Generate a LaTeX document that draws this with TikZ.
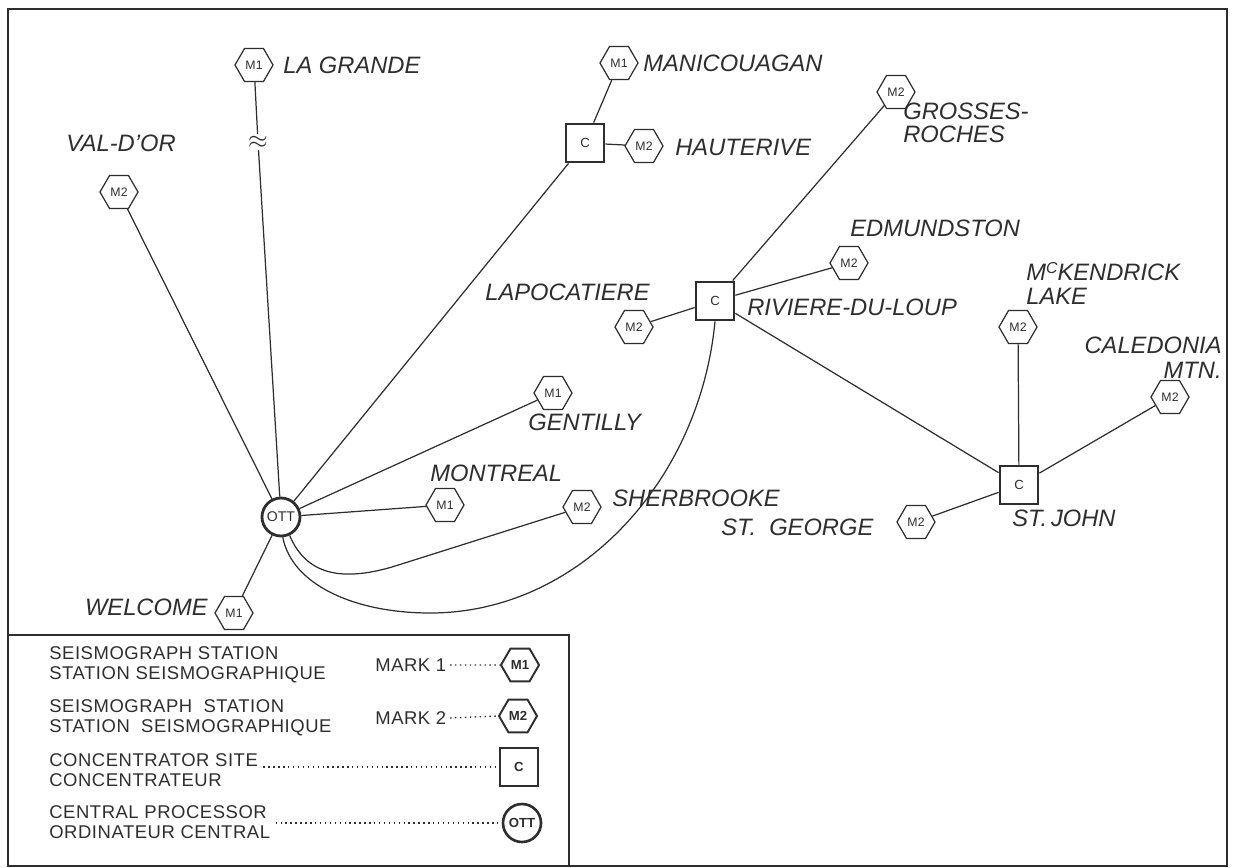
\documentclass[tikz,border=0pt]{standalone}
\usepackage{fontspec}
\setmainfont{Liberation Sans}
\newfontfamily\legfont[LetterSpace=3]{Liberation Sans}
\usetikzlibrary{shapes.geometric}
\definecolor{ink}{rgb}{0.18,0.18,0.18}
\begin{document}
\begin{tikzpicture}[x=0.02cm,y=-0.02cm,
  every node/.style={text=ink},
  wire/.style={draw=ink,line width=0.7pt},
  hexm/.style={draw=ink,regular polygon,regular polygon sides=6,minimum size=0.76cm,inner sep=0pt,line width=0.7pt,font=\legfont\fontsize{7}{7}\selectfont},
  conc/.style={draw=ink,rectangle,minimum size=0.76cm,inner sep=0pt,line width=1.6pt,font=\fontsize{7.5}{8}\selectfont},
  cpu/.style={draw=ink,circle,minimum size=0.76cm,inner sep=0pt,line width=1.6pt,font=\fontsize{8}{8}\selectfont},
  lab/.style={inner sep=0pt,font=\fontsize{13.5}{13.5}\selectfont\itshape},
  leg/.style={inner sep=0pt,anchor=west,align=left,font=\legfont\fontsize{10.5}{11.3}\selectfont},
  legdots/.style={draw=ink,line width=0.8pt,dotted},
  frame/.style={draw=ink,line width=0.8pt}]
\useasboundingbox (0,0) rectangle (1233,868);
\draw[frame] (8,9) rectangle (1227,866);
\draw[frame] (8,635) -- (569,635) -- (569,866);

% ---------- nodes ----------
\node[cpu] (OTT) at (281,517) {OTT};
\node[hexm] (WEL) at (234,613) {M1};
\node[hexm] (VDO) at (119,192) {M2};
\node[hexm] (LAG) at (254,65) {M1};
\node[inner sep=1pt,font=\fontsize{14}{14}\selectfont] (brk) at (258,142) {$\approx$};
\node[hexm] (MAN) at (619,63) {M1};
\node[conc] (HAUC) at (585,143) {C};
\node[hexm] (HAUM) at (644,146) {M2};
\node[hexm] (GRO) at (896,92) {M2};
\node[hexm] (EDM) at (849,263) {M2};
\node[hexm] (LAPM) at (634,327) {M2};
\node[conc] (RDL) at (715,301) {C};
\node[hexm] (MCK) at (1018,327) {M2};
\node[hexm] (CAL) at (1170,397) {M2};
\node[conc] (STJ) at (1019,485) {C};
\node[hexm] (STG) at (916,522) {M2};
\node[hexm] (GEN) at (553,393) {M1};
\node[hexm] (MTL) at (445,505) {M1};
\node[hexm] (SHE) at (582,507) {M2};

% ---------- labels ----------
\node[lab,anchor=east] (tWEL) at (208,607) {WELCOME};
\node[lab] (tVDO) at (121,143) {VAL-D'OR};
\node[lab,anchor=west] (tLAG) at (283,65) {LA GRANDE};
\node[lab,anchor=west] (tMAN) at (643,63) {MANICOUAGAN};
\node[lab,anchor=west] (tHAU) at (675,147) {HAUTERIVE};
\node[lab,anchor=west,align=left,font=\fontsize{13.5}{13}\selectfont\itshape] (tGRO) at (903,123) {GROSSES-\\ROCHES};
\node[lab,anchor=west] (tEDM) at (850,228) {EDMUNDSTON};
\node[lab,anchor=east] (tLAP) at (650,292) {LAPOCATIERE};
\node[lab,anchor=west] (tRDL) at (747,307) {RIVIERE-DU-LOUP};
\node[lab,anchor=west,align=left,font=\fontsize{13.5}{13.6}\selectfont\itshape] (tMCK) at (1026,283) {M\raisebox{0.3em}{\fontsize{9}{9}\selectfont C}KENDRICK\\LAKE};
\node[lab,anchor=east,align=right,font=\fontsize{13.5}{14.2}\selectfont\itshape] (tCAL) at (1222,357.5) {CALEDONIA\\MTN.};
\node[lab,anchor=west] (tSTJ) at (1012,518) {ST.\,JOHN};
\node[lab,anchor=west] (tSTG) at (721,527) {ST.\ \ GEORGE};
\node[lab,anchor=west] (tGEN) at (528,422) {GENTILLY};
\node[lab,anchor=west] (tMTL) at (430,473) {MONTREAL};
\node[lab,anchor=west] (tSHE) at (612,498) {SHERBROOKE};

% ---------- connectors ----------
\draw[wire] (OTT) -- (WEL);
\draw[wire] (OTT) -- (VDO);
\draw[wire] (LAG) -- (brk);
\draw[wire] (brk) -- (OTT);
\draw[wire] (OTT) -- (HAUC);
\draw[wire] (HAUC) -- (MAN);
\draw[wire] (HAUC) -- (HAUM);
\draw[wire] (OTT) -- (GEN);
\draw[wire] (OTT) -- (MTL);
\draw[wire] (OTT.-65) .. controls (306,574) and (340,582) .. (392,567) -- (SHE);
\draw[wire] (OTT.-85) .. controls (292,585) and (355,613) .. (430,613)
  .. controls (580,613) and (700,480) .. (RDL.south);
\draw[wire] (RDL) -- (GRO);
\draw[wire] (RDL) -- (EDM);
\draw[wire] (RDL) -- (LAPM);
\draw[wire] (RDL) -- (STJ);
\draw[wire] (STJ) -- (MCK);
\draw[wire] (STJ) -- (CAL);
\draw[wire] (STJ) -- (STG);

% ---------- legend ----------
\node[leg] (g1) at (49,665) {SEISMOGRAPH STATION\\STATION SEISMOGRAPHIQUE};
\node[leg] (mk1) at (375,665) {MARK 1};
\node[hexm,line width=1.1pt,font=\bfseries\fontsize{7.5}{8}\selectfont] (lm1) at (520,665) {M1};
\node[leg] (g2) at (49,718) {SEISMOGRAPH\ \ STATION\\STATION\ \ SEISMOGRAPHIQUE};
\node[leg] (mk2) at (375,718) {MARK 2};
\node[hexm,line width=1.1pt,font=\bfseries\fontsize{7.5}{8}\selectfont] (lm2) at (518,716) {M2};
\node[leg] (g3) at (49,770) {CONCENTRATOR SITE\\CONCENTRATEUR};
\node[conc,line width=1.5pt,font=\bfseries\fontsize{7.5}{8}\selectfont] (lc) at (519,767) {C};
\node[leg] (g4) at (49,822) {CENTRAL PROCESSOR\\ORDINATEUR CENTRAL};
\node[cpu,line width=1.5pt,font=\bfseries\fontsize{7.5}{8}\selectfont] (lo) at (522,823) {OTT};

\draw[legdots] ([xshift=2pt]mk1.east) -- (lm1.west);
\draw[legdots] ([xshift=2pt]mk2.east) -- (lm2.west);
\draw[legdots] ([xshift=3pt]g3.east |- lc.center) -- (lc.west);
\draw[legdots] ([xshift=3pt]g4.east |- lo.center) -- (lo.west);
\end{tikzpicture}
\end{document}
